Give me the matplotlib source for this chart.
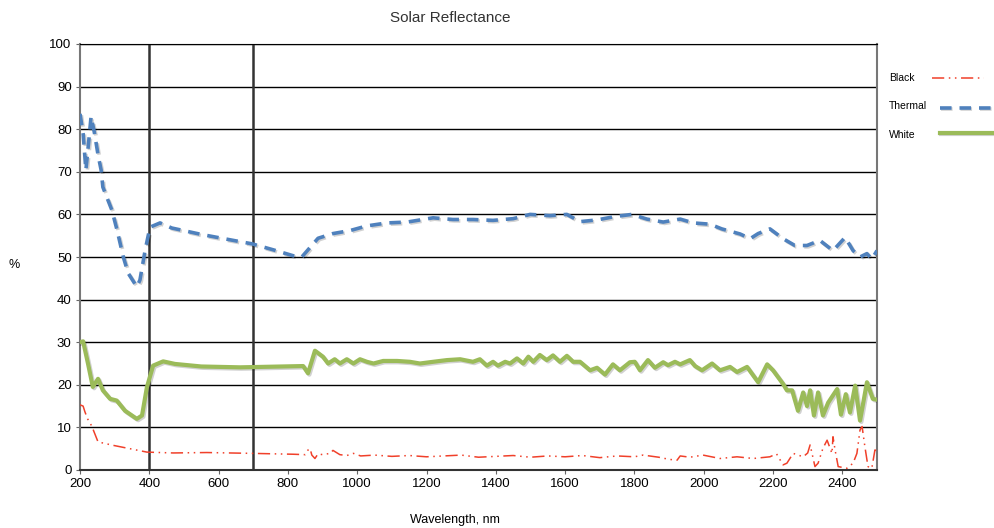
import matplotlib.pyplot as plt
import matplotlib.patheffects as pe
from matplotlib.lines import Line2D

plt.rcParams['font.family'] = ['Liberation Sans', 'DejaVu Sans']

# Black
black_wl = [200, 209, 214, 222, 234, 252, 295, 344, 393, 469,
            566, 699, 815, 850, 858, 864, 869, 878, 887, 900,
            922, 930, 950, 970, 989, 1010, 1050, 1100, 1150, 1200,
            1250, 1300, 1350, 1400, 1450, 1500, 1550, 1600, 1650, 1700,
            1750, 1800, 1825, 1870, 1900, 1923, 1932, 1960, 1998, 2047,
            2096, 2143, 2191, 2210, 2229, 2240, 2258, 2287, 2300, 2307,
            2321, 2330, 2344, 2356, 2370, 2373, 2379, 2388, 2413, 2431,
            2442, 2451, 2457, 2465, 2474, 2485, 2494, 2500]
black_val = [15.3, 15.0, 13.7, 12.0, 10.3, 6.6, 5.8, 5.0, 4.2, 4.0,
             4.1, 3.9, 3.7, 3.6, 4.7, 5.0, 3.5, 2.7, 3.8, 3.6,
             3.9, 4.6, 3.6, 3.4, 3.9, 3.3, 3.5, 3.2, 3.4, 3.1,
             3.3, 3.5, 3.0, 3.2, 3.4, 3.0, 3.3, 3.1, 3.4, 2.9,
             3.3, 3.1, 3.5, 3.0, 2.5, 2.3, 3.3, 3.0, 3.5, 2.7,
             3.1, 2.7, 3.1, 3.8, 1.2, 1.6, 3.9, 3.1, 4.0, 5.9,
             0.8, 1.6, 5.1, 7.0, 3.9, 7.8, 4.7, 0.8, 0.4, 1.6,
             3.9, 9.4, 10.2, 5.5, 0.8, 0.4, 4.7, 4.5]

# Thermal
thermal_wl = [200, 209, 217, 225, 232, 242, 252, 261, 266, 292,
              307, 325, 339, 364, 373, 388, 402, 431, 465, 550,
              662, 696, 757, 815, 840, 887, 930, 979, 1028, 1086,
              1144, 1219, 1276, 1334, 1392, 1450, 1499, 1556, 1605, 1643,
              1692, 1744, 1793, 1836, 1883, 1932, 1970, 2018, 2052, 2105,
              2134, 2157, 2191, 2229, 2263, 2298, 2335, 2373, 2408, 2431,
              2451, 2471, 2485, 2500]
thermal_val = [83.6, 79.0, 70.4, 77.0, 83.0, 79.0, 74.0, 70.4, 66.4, 61.0,
               56.3, 50.0, 46.2, 43.0, 44.6, 51.6, 57.0, 58.0, 56.8, 55.3,
               53.6, 53.1, 51.7, 50.3, 50.0, 54.4, 55.5, 56.2, 57.3, 58.0,
               58.2, 59.2, 58.8, 58.8, 58.6, 59.0, 60.0, 59.7, 60.0, 58.3,
               58.7, 59.5, 60.0, 58.9, 58.2, 58.9, 58.0, 57.7, 56.6, 55.4,
               54.3, 55.5, 56.6, 54.3, 52.7, 52.7, 53.9, 51.5, 54.6, 51.5,
               50.0, 50.8, 49.5, 51.5]

# White
white_wl = [200, 209, 223, 237, 252, 266, 287, 306, 330, 364,
            379, 393, 411, 440, 474, 550, 662, 844, 858, 878,
            901, 916, 935, 950, 970, 989, 1008, 1028, 1047, 1075,
            1115, 1152, 1181, 1219, 1259, 1297, 1334, 1354, 1374, 1392,
            1406, 1427, 1441, 1461, 1479, 1494, 1508, 1527, 1547, 1565,
            1585, 1605, 1623, 1643, 1672, 1692, 1715, 1738, 1758, 1787,
            1801, 1816, 1839, 1859, 1883, 1897, 1917, 1932, 1960, 1975,
            1995, 2024, 2047, 2076, 2096, 2125, 2157, 2183, 2200, 2229,
            2240, 2255, 2272, 2287, 2298, 2307, 2318, 2330, 2344, 2359,
            2385, 2396, 2410, 2422, 2437, 2451, 2471, 2488, 2500]
white_val = [30.0, 30.2, 25.0, 19.5, 21.4, 18.7, 16.7, 16.3, 13.9, 12.0,
             12.8, 19.4, 24.5, 25.5, 24.9, 24.3, 24.1, 24.4, 22.7, 28.0,
             26.6, 25.0, 26.0, 25.0, 26.0, 25.0, 26.0, 25.4, 25.0, 25.6,
             25.6, 25.4, 25.0, 25.4, 25.8, 26.0, 25.4, 26.0, 24.5, 25.4,
             24.5, 25.4, 25.0, 26.2, 25.0, 26.6, 25.4, 27.0, 25.8, 26.9,
             25.4, 26.8, 25.4, 25.4, 23.4, 24.0, 22.4, 24.8, 23.4, 25.3,
             25.4, 23.4, 25.8, 24.0, 25.3, 24.6, 25.4, 24.8, 25.8, 24.4,
             23.4, 25.0, 23.4, 24.2, 23.0, 24.2, 20.6, 24.8, 23.4, 20.2,
             18.7, 18.7, 13.9, 18.2, 15.0, 18.7, 12.8, 18.2, 12.8, 15.8,
             19.0, 13.0, 17.8, 13.5, 19.8, 11.6, 20.6, 16.7, 16.5]

x_ticks = list(range(200, 2501, 200))
y_ticks = list(range(0, 101, 10))
visible_edges = [400, 700]

W, H = 994, 528
fig = plt.figure(figsize=(W / 100, H / 100), dpi=100)
ax = fig.add_axes([80 / W, 1 - 470 / H, 797 / W, 426 / H])

# gridlines and visible-range markers
for y in y_ticks[1:]:
    ax.axhline(y, color='black', lw=1.0, zorder=1)
for x in visible_edges:
    ax.axvline(x, color='#333333', lw=1.8, zorder=1)

shadow = [pe.SimpleLineShadow(offset=(1, -1), alpha=0.18), pe.Normal()]

styles = {
    'Black': dict(color='#f0402a', lw=1.1, dashes=(8, 3, 1, 3, 1, 3)),
    'Thermal': dict(color='#4f81bd', lw=2.6, dashes=(3.2, 2.2),
                    path_effects=shadow),
    'White': dict(color='#9bbb59', lw=3.0, solid_joinstyle='round',
                  path_effects=shadow),
}

ax.plot(black_wl, black_val, zorder=3, **styles['Black'])
ax.plot(thermal_wl, thermal_val, zorder=3, **styles['Thermal'])
ax.plot(white_wl, white_val, zorder=3, **styles['White'])

ax.set_xlim(200, 2500)
ax.set_ylim(0, 100)
ax.set_xticks(x_ticks)
ax.set_yticks(y_ticks)
ax.tick_params(axis='both', labelsize=9.5, length=3, pad=3,
               color='#666666', labelcolor='black')
for side in ['left', 'right']:
    ax.spines[side].set_color('#777777')
    ax.spines[side].set_linewidth(1.5)
ax.spines['top'].set_color('black')
ax.spines['bottom'].set_color('#333333')
ax.spines['bottom'].set_linewidth(1.5)

fig.text(450 / W, 1 - 18 / H, 'Solar Reflectance', ha='center',
         va='center', fontsize=11, color='#333333')
fig.text(455 / W, 1 - 520 / H, 'Wavelength, nm', ha='center',
         va='center', fontsize=9)
fig.text(14 / W, 1 - 265 / H, '%', ha='center', va='center', fontsize=9)

# legend drawn by hand: label on the left, sample line on the right
legend_rows = [('Black', 78, 932, 984, 78),
               ('Thermal', 106, 940, 991, 108),
               ('White', 135, 940, 993, 133)]
for name, ty, x0, x1, ly in legend_rows:
    fig.text(889 / W, 1 - ty / H, name, ha='left', va='center',
             fontsize=7.5)
    fig.add_artist(Line2D([x0 / W, x1 / W], [1 - ly / H, 1 - ly / H],
                          transform=fig.transFigure, **styles[name]))

plt.savefig('out.png', dpi=100)
